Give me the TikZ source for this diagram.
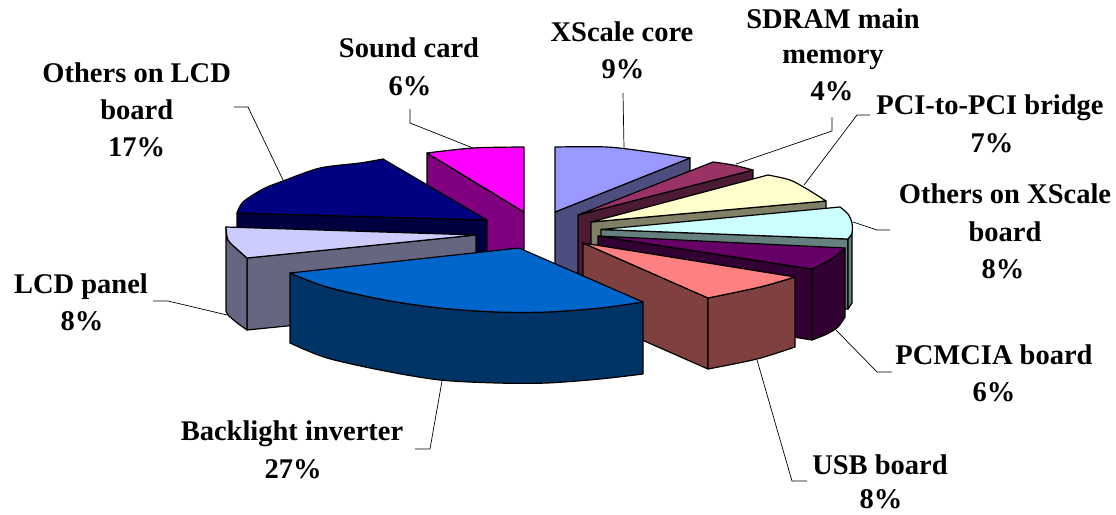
\documentclass[tikz,border=0pt]{standalone}
\usepackage{fontspec}
\setmainfont{Liberation Serif}

% slice colours: top face and darker side faces
\definecolor{sndT}{HTML}{FF00FF}  \definecolor{sndS}{HTML}{800080}
\definecolor{olcdT}{HTML}{000080} \definecolor{olcdS}{HTML}{000040}
\definecolor{lcdT}{HTML}{CCCCFF}  \definecolor{lcdS}{HTML}{666680}
\definecolor{blT}{HTML}{0066CC}   \definecolor{blS}{HTML}{003366}
\definecolor{xsT}{HTML}{9999FF}   \definecolor{xsS}{HTML}{4D4D80}
\definecolor{sdT}{HTML}{993366}   \definecolor{sdS}{HTML}{4D1A33}
\definecolor{pciT}{HTML}{FFFFCC}  \definecolor{pciS}{HTML}{808066}
\definecolor{oxsT}{HTML}{CCFFFF}  \definecolor{oxsS}{HTML}{668080}
\definecolor{pcmT}{HTML}{660066}  \definecolor{pcmS}{HTML}{330033}
\definecolor{usbT}{HTML}{FF8080}  \definecolor{usbS}{HTML}{804040}

\tikzset{
  face/.style={draw=black, line width=1.2pt, line join=round},
  leader/.style={draw=black, line width=0.7pt},
  lbl/.style={font=\bfseries\fontsize{28.5}{34}\selectfont, anchor=base, inner sep=0pt},
}

\begin{document}
\begin{tikzpicture}[x=1pt, y=-1pt]
\useasboundingbox (0,0) rectangle (1116,514);

% ---------- Sound card (back) ----------
\coordinate (sA) at (427,153);
\coordinate (sC) at (524,212);
\filldraw[face, fill=sndS] (sA) -- (sC) -- (524,282) -- (427,223) -- cycle;
\filldraw[face, fill=sndT] plot[smooth] coordinates {(427,153) (473,148) (524,147)} -- (sC) -- cycle;

% ---------- Others on LCD board ----------
\coordinate (oA) at (237,213);
\coordinate (oC) at (487,220);
\filldraw[face, fill=olcdS] (oA) -- (oC) -- (487,290) -- (237,283) -- cycle;
\filldraw[face, fill=olcdT] plot[smooth] coordinates {(237,213) (243,202) (263,189) (283,181) (320,168) (360,163) (383,159)} -- (oC) -- cycle;

% ---------- XScale core ----------
\coordinate (xA) at (555,212);
\filldraw[face, fill=xsS] (xA) -- (690,158) -- (690,228) -- (555,282) -- cycle;
\filldraw[face, fill=xsT] plot[smooth] coordinates {(555,147) (607,147) (650,152) (690,158)} -- (xA) -- cycle;

% ---------- SDRAM main memory ----------
\coordinate (dA) at (578,215);
\filldraw[face, fill=sdS] (dA) -- (753,170) -- (753,240) -- (578,285) -- cycle;
\filldraw[face, fill=sdT] plot[smooth] coordinates {(713,162) (733,165) (753,170)} -- (dA) -- cycle;

% ---------- PCI-to-PCI bridge ----------
\coordinate (pA) at (591,222);
\filldraw[face, fill=pciS] (pA) -- (826,201) -- (826,271) -- (591,292) -- cycle;
\filldraw[face, fill=pciT] plot[smooth] coordinates {(768,175) (790,180) (807,189) (826,201)} -- (pA) -- cycle;

% ---------- Others on XScale board ----------
\coordinate (qA) at (601,229.5);
\filldraw[face, fill=oxsS] (qA) -- (848,239) -- (848,309) -- (601,299.5) -- cycle;
\filldraw[face, fill=oxsS] (852,226) -- (852,233) -- (848,239) -- (848,309) -- (852,303) -- cycle;
\filldraw[face, fill=oxsT] (qA) -- plot[smooth] coordinates {(840,207) (848,214) (852,223) (852,233) (848,239)} -- cycle;

% ---------- PCMCIA board ----------
\coordinate (mA) at (598,236);
\filldraw[face, fill=pcmS] (mA) -- (812,269) -- (812,340) -- (598,306) -- cycle;
\filldraw[face, fill=pcmS] plot[smooth] coordinates {(812,269) (830,260) (845,248)} -- plot[smooth] coordinates {(845,317) (838,327) (827,334) (812,340)} -- cycle;
\filldraw[face, fill=pcmT] (mA) -- plot[smooth] coordinates {(845,248) (830,260) (812,269)} -- cycle;

% ---------- USB board ----------
\coordinate (uA) at (583,243);
\filldraw[face, fill=usbS] (uA) -- (708,298) -- (708,369) -- (583,314) -- cycle;
\filldraw[face, fill=usbS] plot[smooth] coordinates {(708,298) (760,287) (795,277)} -- plot[smooth] coordinates {(795,347) (757,359) (708,369)} -- cycle;
\filldraw[face, fill=usbT] (uA) -- plot[smooth] coordinates {(795,277) (760,287) (708,298)} -- cycle;

% ---------- LCD panel ----------
\coordinate (lA) at (476,235);
\filldraw[face, fill=lcdS] (247,258) -- (lA) -- (476,307) -- (247,330) -- cycle;
\filldraw[face, fill=lcdS] plot[smooth] coordinates {(226,227) (228,240) (238,250) (247,258)} -- plot[smooth] coordinates {(247,330) (236,322) (228,315) (226,311)} -- cycle;
\filldraw[face, fill=lcdT] plot[smooth] coordinates {(226,227) (228,240) (238,250) (247,258)} -- (lA) -- cycle;

% ---------- Backlight inverter (front) ----------
\coordinate (kA) at (519,248);
\filldraw[face, fill=blS] plot[smooth] coordinates {(290,273) (327,287) (385,300) (440,308) (497,312) (547,312) (600,308) (643,302)}
  -- plot[smooth] coordinates {(643,374) (600,379) (547,383) (497,383) (440,380) (385,371) (327,358) (290,343)} -- cycle;
\filldraw[face, fill=blT] (kA) -- plot[smooth] coordinates {(290,273) (327,287) (385,300) (440,308) (497,312) (547,312) (600,308) (643,302)} -- cycle;

% ---------- labels ----------
\node[lbl] (sndA) at (409,57.5) {Sound card};
\node[lbl] (sndB) at (410,95) {6\%};

\node[lbl] (olcdA) at (136.7,82) {Others on LCD};
\node[lbl] (olcdB) at (136.7,119.5) {board};
\node[lbl] (olcdC) at (136.7,156) {17\%};

\node[lbl] (xsA) at (622,41) {XScale core};
\node[lbl] (xsB) at (623,78) {9\%};

\node[lbl] (sdA) at (833,28) {SDRAM main};
\node[lbl] (sdB) at (833,63.5) {memory};
\node[lbl] (sdC) at (832,100) {4\%};

\node[lbl] (pciA) at (990,114) {PCI-to-PCI bridge};
\node[lbl] (pciB) at (992,152) {7\%};

\node[lbl] (oxsA) at (1005,203.3) {Others on XScale};
\node[lbl] (oxsB) at (1005,241.7) {board};
\node[lbl] (oxsC) at (1003,278.3) {8\%};

\node[lbl] (pcmA) at (994,364) {PCMCIA board};
\node[lbl] (pcmB) at (994,401.7) {6\%};

\node[lbl] (usbA) at (880,474) {USB board};
\node[lbl] (usbB) at (881,508) {8\%};

\node[lbl] (lcdA) at (81,293.3) {LCD panel};
\node[lbl] (lcdB) at (82,330.7) {8\%};

\node[lbl] (blA) at (292,440.7) {Backlight inverter};
\node[lbl] (blB) at (293,478.3) {27\%};

% ---------- leader lines ----------
\coordinate (sndL1) at (410,109);  \coordinate (sndL2) at (410,123);  \coordinate (sndL3) at (473,148);
\coordinate (olcdL1) at (234,107); \coordinate (olcdL2) at (248,107); \coordinate (olcdL3) at (283,180);
\coordinate (xsL1) at (623,93);    \coordinate (xsL2) at (624,148);
\coordinate (sdL1) at (832,117);   \coordinate (sdL2) at (832,131);   \coordinate (sdL3) at (736,164);
\coordinate (pciL1) at (870,115);  \coordinate (pciL2) at (857,115);  \coordinate (pciL3) at (804,185);
\coordinate (oxsL1) at (890,230);  \coordinate (oxsL2) at (877,230);  \coordinate (oxsL3) at (853,222);
\coordinate (pcmL1) at (892,372);  \coordinate (pcmL2) at (877,372);  \coordinate (pcmL3) at (836,330);
\coordinate (usbL1) at (807,481);  \coordinate (usbL2) at (792,481);  \coordinate (usbL3) at (757,360);
\coordinate (lcdL1) at (153,301);  \coordinate (lcdL2) at (168,301);  \coordinate (lcdL3) at (227,315);
\coordinate (blL1) at (415,449);   \coordinate (blL2) at (430,449);   \coordinate (blL3) at (442,381);

\draw[leader] (sndL1) -- (sndL2) -- (sndL3);
\draw[leader] (olcdL1) -- (olcdL2) -- (olcdL3);
\draw[leader] (xsL1) -- (xsL2);
\draw[leader] (sdL1) -- (sdL2) -- (sdL3);
\draw[leader] (pciL1) -- (pciL2) -- (pciL3);
\draw[leader] (oxsL1) -- (oxsL2) -- (oxsL3);
\draw[leader] (pcmL1) -- (pcmL2) -- (pcmL3);
\draw[leader] (usbL1) -- (usbL2) -- (usbL3);
\draw[leader] (lcdL1) -- (lcdL2) -- (lcdL3);
\draw[leader] (blL1) -- (blL2) -- (blL3);
\end{tikzpicture}
\end{document}
